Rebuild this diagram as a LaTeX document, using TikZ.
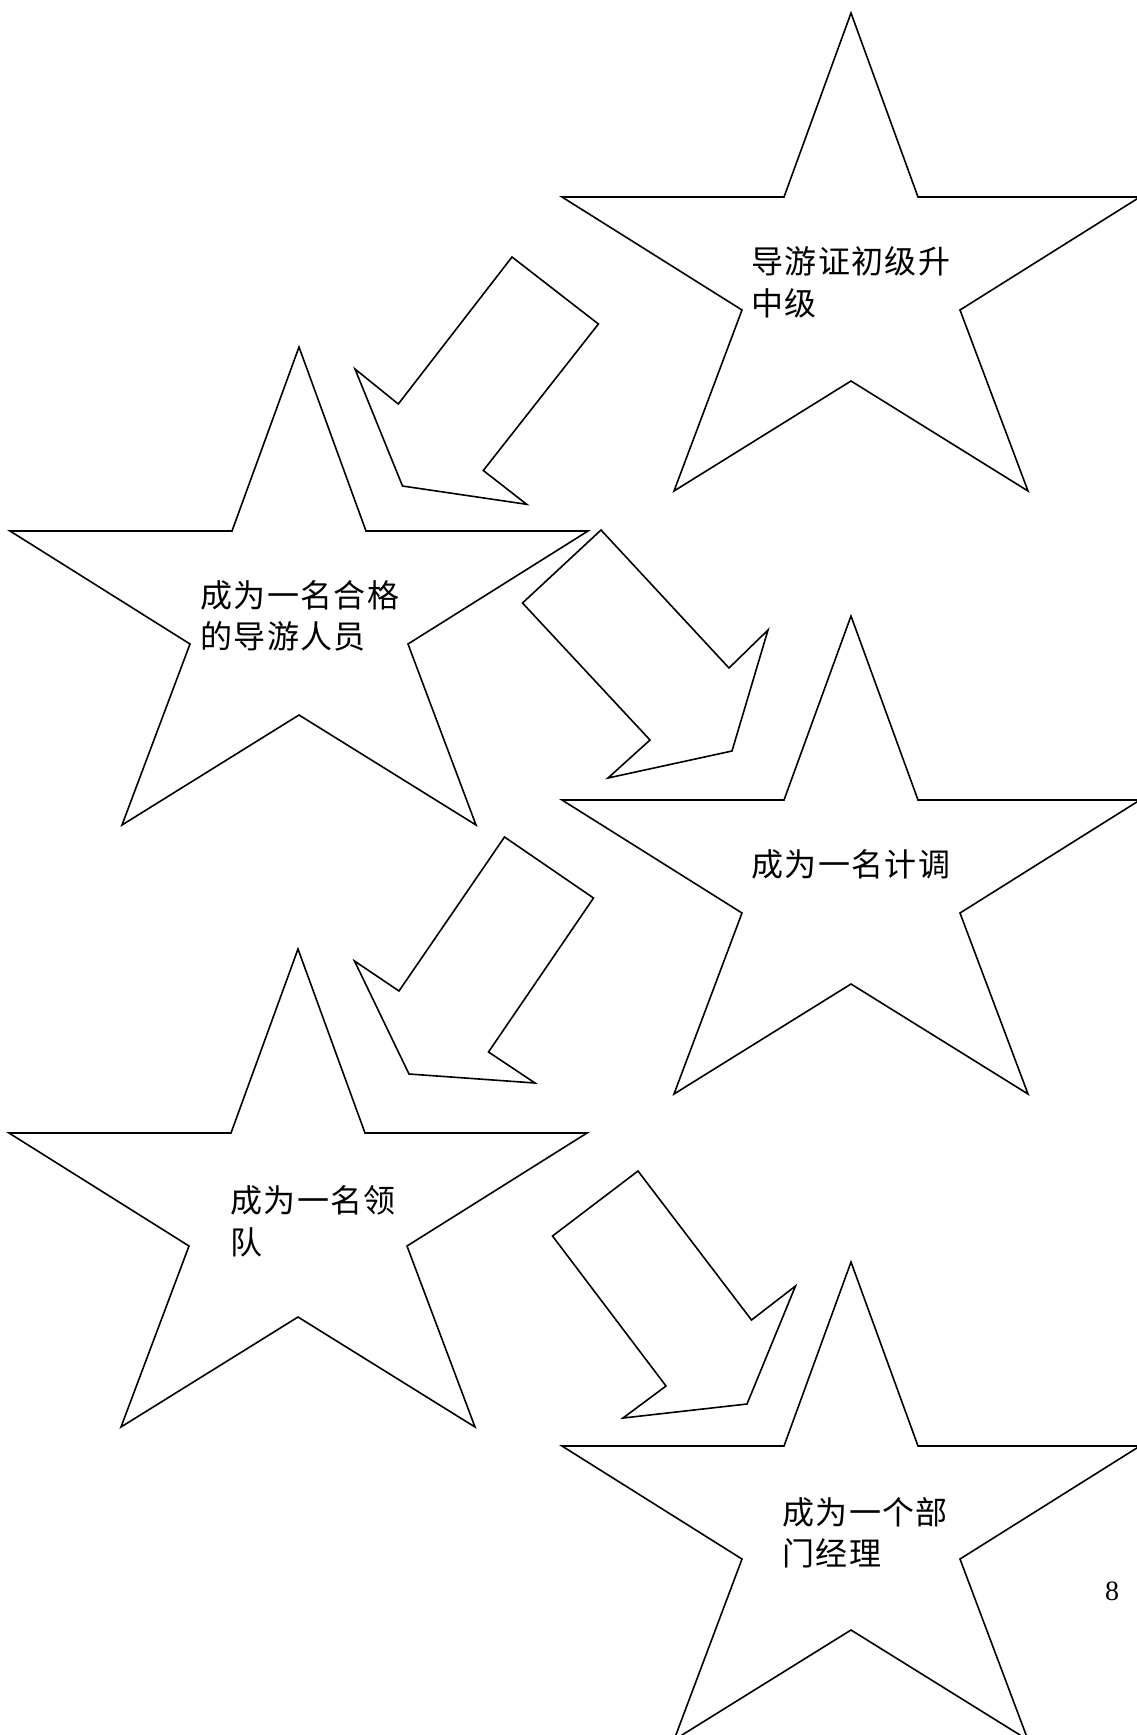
\documentclass[tikz,border=0pt]{standalone}
\usepackage{fontspec}
\setmainfont{Liberation Serif}
\newfontfamily\cjk[LetterSpace=4.5]{Noto Sans CJK SC}
\begin{document}
\begin{tikzpicture}[x=1pt,y=-1pt,
  shapeline/.style={draw=black,line width=1.6pt,line join=miter},
  starlabel/.style={font=\cjk\fontsize{32}{41}\selectfont,anchor=base west,inner sep=0pt},
  pagenum/.style={font=\fontsize{28}{30}\selectfont,anchor=base,inner sep=0pt},
  bigstar/.pic={\draw[shapeline] (0,0) -- (67,184) -- (289,184) -- (109,297) -- (177,478) -- (0,368)
     -- (-177,478) -- (-109,297) -- (-289,184) -- (-67,184) -- cycle;}
]
\useasboundingbox[fill=white] (0,0) rectangle (1137,1735);
\clip (0,0) rectangle (1137,1735);

% stars
\pic at (851,13) {bigstar};
\pic at (299,347) {bigstar};
\pic at (851,616) {bigstar};
\pic at (298,949) {bigstar};
\pic at (851,1262) {bigstar};

% block arrows
\draw[shapeline] (512,257) -- (598.4,324) -- (483.3,470.5) -- (526.7,504.3) -- (402.5,486) -- (355,369) -- (398.3,404) -- cycle;
\draw[shapeline] (601,530) -- (729,668) -- (768,630) -- (732,751) -- (608,778) -- (650,740) -- (522.5,603) -- cycle;
\draw[shapeline] (504.5,837) -- (593.5,898) -- (488.5,1052) -- (535,1083) -- (409,1074) -- (354.5,961) -- (399,991) -- cycle;
\draw[shapeline] (638,1171) -- (751.5,1320) -- (795.5,1286) -- (747,1404) -- (623,1418) -- (666,1386) -- (552.5,1236) -- cycle;

% labels
\node[starlabel] (s1a) at (751,273) {导游证初级升};
\node[starlabel] (s1b) at (751,315) {中级};
\node[starlabel] (s2a) at (200,607) {成为一名合格};
\node[starlabel] (s2b) at (200,648) {的导游人员};
\node[starlabel] (s3a) at (751,876) {成为一名计调};
\node[starlabel] (s4a) at (230,1212) {成为一名领};
\node[starlabel] (s4b) at (230,1254) {队};
\node[starlabel] (s5a) at (782,1524) {成为一个部};
\node[starlabel] (s5b) at (782,1565) {门经理};

\node[pagenum] (pg) at (1112,1600) {8};
\end{tikzpicture}
\end{document}
